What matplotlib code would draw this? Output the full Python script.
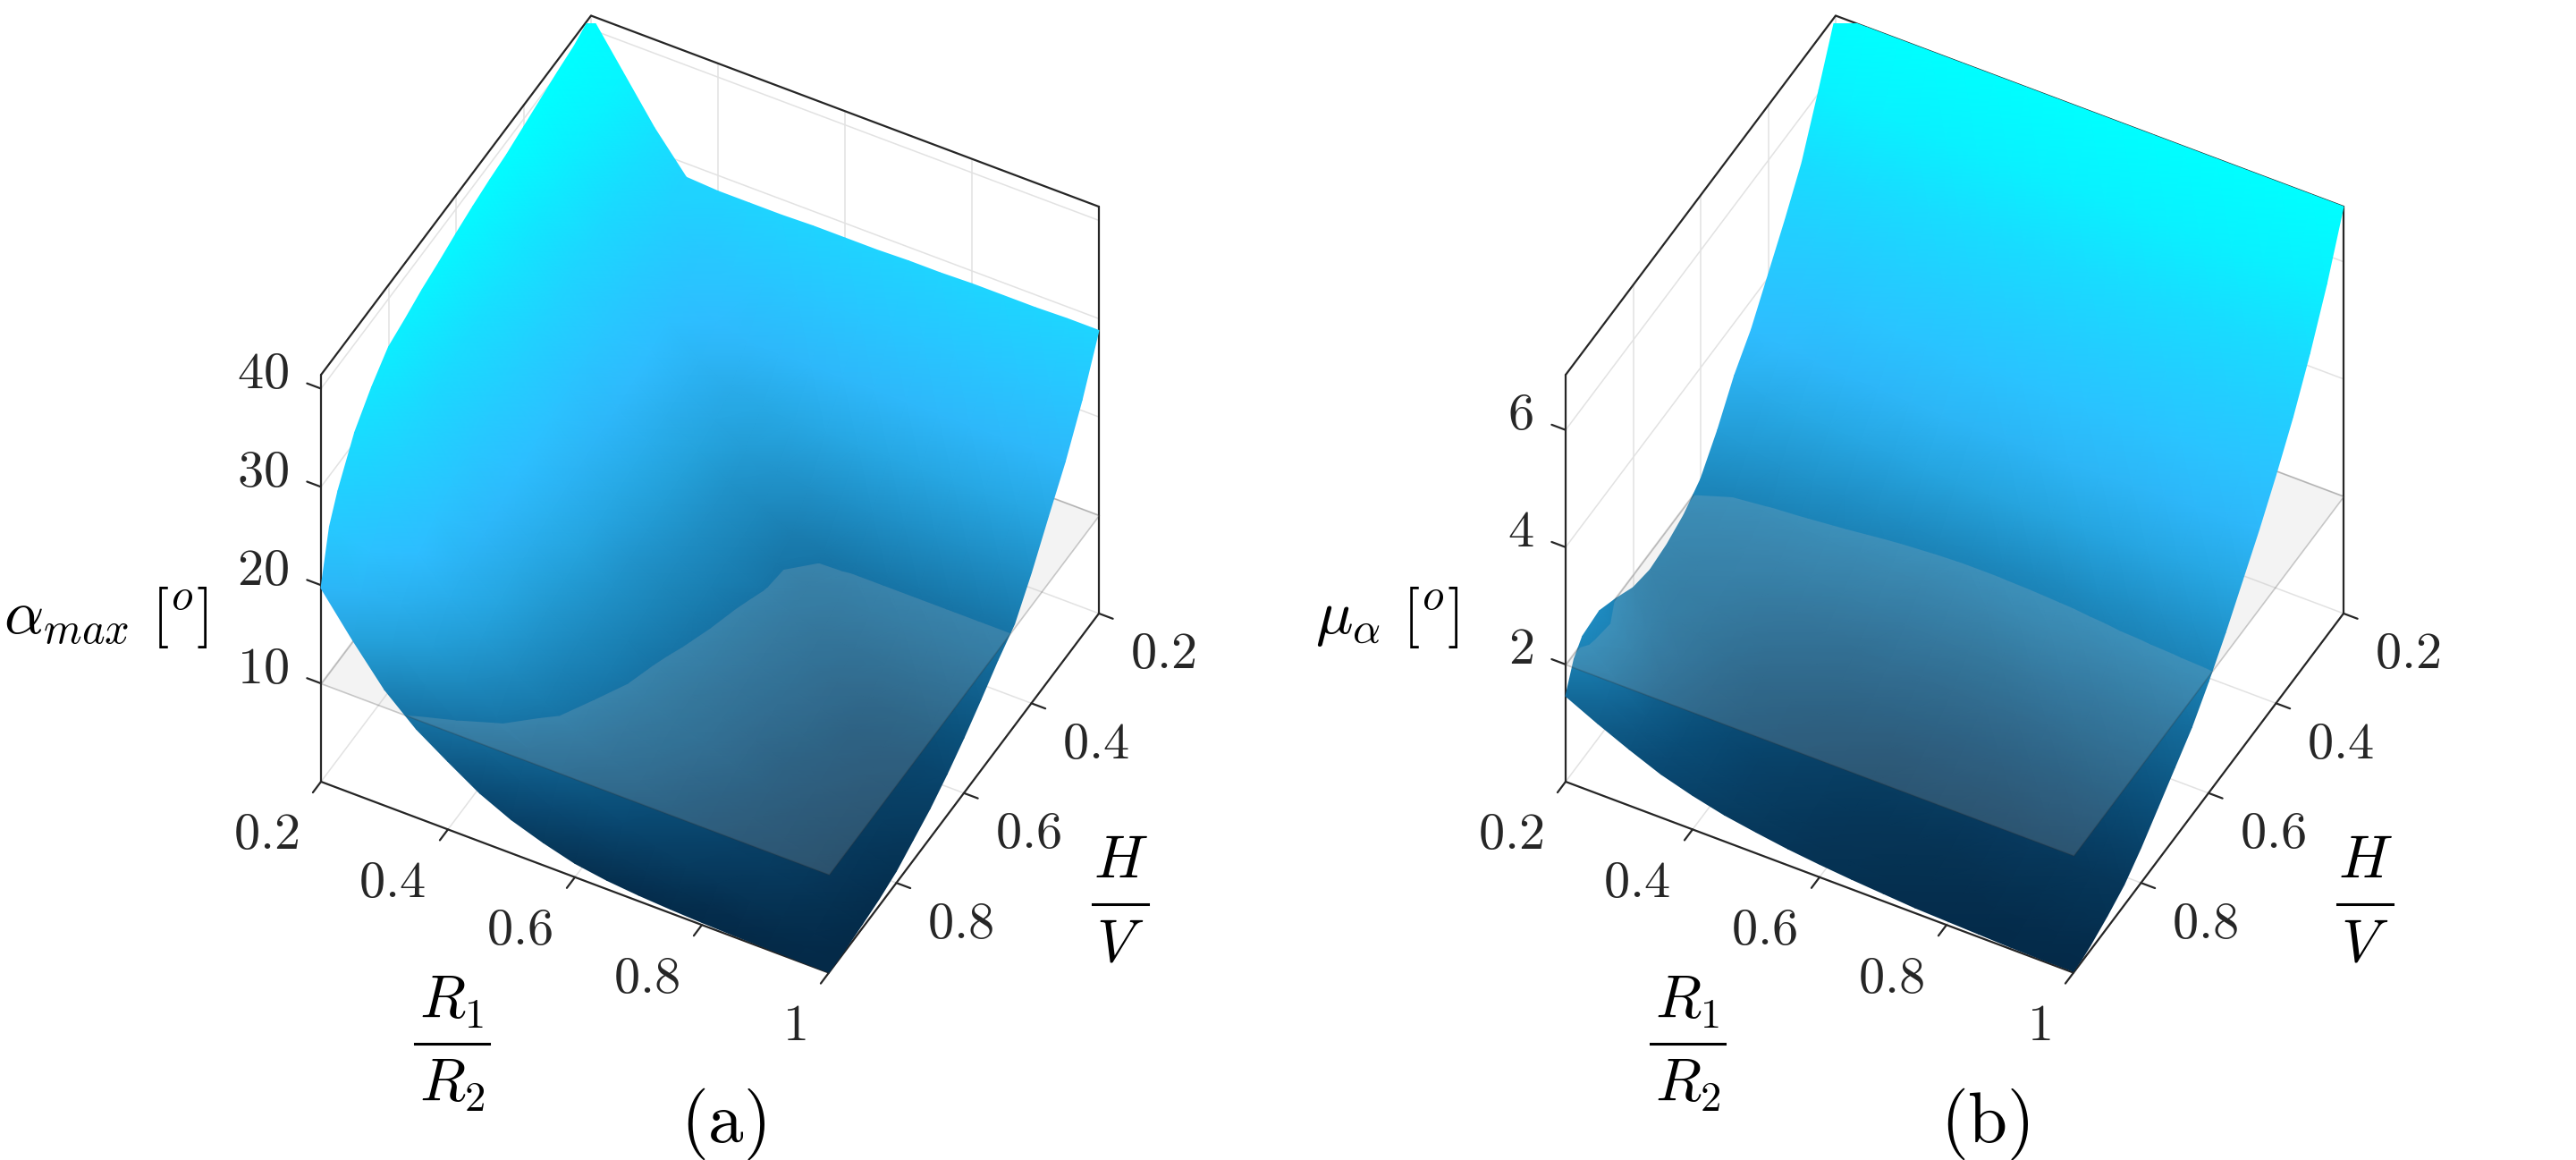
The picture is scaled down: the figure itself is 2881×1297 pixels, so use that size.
import numpy as np
import matplotlib
matplotlib.use('Agg')
import matplotlib.pyplot as plt
from matplotlib.collections import TriMesh
from matplotlib.colors import LinearSegmentedColormap, Normalize
from matplotlib.tri import Triangulation
from mpl_toolkits.mplot3d import proj3d
from mpl_toolkits.mplot3d.art3d import Poly3DCollection

plt.rcParams['mathtext.fontset'] = 'cm'

W, H_PX = 2881, 1297

ratio_r = [0.2, 0.25, 0.3, 0.35, 0.4, 0.45, 0.5, 0.55, 0.6, 0.65, 0.7, 0.75, 0.8, 0.85, 0.9, 0.95, 1.0]
ratio_h = [0.2, 0.25, 0.3, 0.35, 0.4, 0.45, 0.5, 0.55, 0.6, 0.65, 0.7, 0.75, 0.8, 0.85, 0.9, 0.95, 0.975, 1.0]

# one row per H/V, one column per R1/R2
alpha_max = [
    [41.4, 36.9, 32.4, 28.6, 28.4, 28.4, 28.4, 28.5, 28.5, 28.5, 28.6, 28.6, 28.7, 28.7, 28.7, 28.8, 28.8],
    [40.6, 36.4, 31.7, 27.7, 24.6, 24.1, 24, 24, 24, 24, 24, 24, 24, 24, 24, 24, 24],
    [40.2, 35.8, 31, 26.9, 22.9, 20.8, 20.1, 20, 20, 20, 20, 20, 20, 20, 20, 20, 20],
    [39.7, 35.2, 30.3, 26, 22, 19.2, 17.6, 16.9, 16.7, 16.7, 16.7, 16.7, 16.7, 16.7, 16.7, 16.7, 16.7],
    [39.2, 34.5, 29.6, 25, 21.3, 18.7, 16.6, 14.9, 14, 13.5, 13.3, 13.3, 13.3, 13.3, 13.3, 13.3, 13.3],
    [38.7, 33.7, 28.9, 24.2, 20.5, 18.1, 15.9, 13.8, 12.5, 11.1, 10.4, 10.35, 10.35, 10.35, 10.35, 10.35, 10.35],
    [38.4, 33.2, 28.5, 23.7, 20, 17.8, 15.5, 13.5, 12, 10.3, 9.1, 8.9, 8.9, 8.9, 8.9, 8.9, 8.9],
    [38, 32.6, 27.9, 23.1, 19.7, 17.4, 15.1, 13.2, 11.7, 10.2, 8.8, 7.9, 7.4, 7.2, 7.2, 7.2, 7.2],
    [37.5, 32, 27.1, 22.5, 19.2, 16.9, 14.6, 12.8, 11.2, 9.7, 8.3, 7.3, 6.4, 5.8, 5.6, 5.6, 5.6],
    [36.9, 31.3, 26.4, 21.9, 18.8, 16.4, 14, 12.4, 10.8, 9.3, 8, 7, 6, 5, 4.4, 4.2, 4.2],
    [36.4, 30.7, 25.6, 21.5, 18.3, 15.9, 13.6, 12, 10.3, 8.8, 7.6, 6.6, 5.6, 4.6, 3.8, 3.3, 3],
    [35.7, 30, 24.6, 20.2, 17.7, 15.1, 13.1, 11.4, 9.7, 8.2, 7.2, 6.1, 5, 4.1, 3.3, 2.7, 2.1],
    [35.1, 29.3, 23.8, 19.7, 17.1, 14.5, 12.6, 10.9, 9.2, 7.8, 6.8, 5.7, 4.6, 3.7, 2.9, 2.1, 1.2],
    [33.3, 28, 22.6, 18.9, 16.2, 13.6, 11.8, 10, 8.4, 7.2, 6.1, 5, 4, 3.1, 2.3, 1.6, 0.7],
    [31, 26, 21, 17.8, 15, 12.7, 10.8, 9, 7.6, 6.4, 5.1, 4.1, 3.2, 2.5, 1.8, 1.1, 0.4],
    [27.3, 22.3, 18.2, 15.2, 12.6, 10.4, 8.4, 7, 5.6, 4.4, 3.3, 2.6, 1.9, 1.3, 0.9, 0.5, 0.15],
    [24.8, 19.3, 15.5, 12.4, 10, 7.9, 6.3, 4.8, 3.5, 2.5, 1.8, 1.2, 0.8, 0.55, 0.35, 0.2, 0.06],
    [19.7, 15.6, 11.8, 9, 6.9, 4.9, 3.4, 2.3, 1.4, 0.9, 0.6, 0.4, 0.25, 0.15, 0.1, 0.05, 0.02],
]

mu_alpha = [
    [6.94, 6.94, 6.94, 6.94, 6.94, 6.94, 6.94, 6.94, 6.94, 6.94, 6.94, 6.94, 6.94, 6.94, 6.94, 6.94, 6.94],
    [6.05, 6.03, 6.02, 6, 6, 6, 6, 6, 6, 6, 6, 6, 6, 6, 6, 6, 6],
    [5.2, 5.2, 5.2, 5.2, 5.2, 5.2, 5.2, 5.2, 5.2, 5.2, 5.2, 5.2, 5.2, 5.2, 5.2, 5.2, 5.2],
    [4.6, 4.55, 4.52, 4.5, 4.5, 4.5, 4.5, 4.5, 4.5, 4.5, 4.5, 4.5, 4.5, 4.5, 4.5, 4.5, 4.5],
    [4.05, 3.98, 3.93, 3.9, 3.88, 3.86, 3.85, 3.85, 3.85, 3.85, 3.86, 3.86, 3.87, 3.88, 3.88, 3.89, 3.9],
    [3.5, 3.42, 3.36, 3.32, 3.3, 3.28, 3.26, 3.25, 3.25, 3.25, 3.26, 3.27, 3.28, 3.3, 3.31, 3.33, 3.35],
    [3.1, 2.95, 2.88, 2.83, 2.8, 2.76, 2.73, 2.71, 2.7, 2.7, 2.71, 2.73, 2.75, 2.77, 2.8, 2.82, 2.85],
    [2.55, 2.45, 2.35, 2.28, 2.24, 2.2, 2.15, 2.12, 2.1, 2.1, 2.11, 2.13, 2.17, 2.22, 2.26, 2.3, 2.35],
    [2.1, 2, 1.95, 1.92, 1.88, 1.83, 1.79, 1.76, 1.75, 1.75, 1.77, 1.79, 1.81, 1.84, 1.86, 1.88, 1.9],
    [1.87, 1.78, 1.72, 1.66, 1.6, 1.53, 1.47, 1.43, 1.4, 1.38, 1.38, 1.39, 1.41, 1.43, 1.45, 1.48, 1.5],
    [1.75, 1.65, 1.58, 1.46, 1.35, 1.26, 1.19, 1.14, 1.1, 1.08, 1.07, 1.08, 1.1, 1.12, 1.14, 1.17, 1.2],
    [1.7, 1.57, 1.45, 1.29, 1.15, 1.04, 0.96, 0.9, 0.85, 0.82, 0.81, 0.81, 0.82, 0.83, 0.85, 0.87, 0.9],
    [1.78, 1.55, 1.38, 1.18, 1, 0.88, 0.78, 0.69, 0.62, 0.59, 0.57, 0.56, 0.56, 0.57, 0.58, 0.59, 0.6],
    [1.98, 1.6, 1.33, 1.08, 0.88, 0.74, 0.63, 0.53, 0.45, 0.41, 0.38, 0.37, 0.36, 0.36, 0.35, 0.35, 0.35],
    [2.15, 1.7, 1.27, 1, 0.78, 0.62, 0.51, 0.41, 0.33, 0.29, 0.26, 0.24, 0.23, 0.22, 0.21, 0.2, 0.2],
    [2.1, 1.6, 1.15, 0.86, 0.68, 0.53, 0.42, 0.33, 0.26, 0.22, 0.18, 0.15, 0.13, 0.11, 0.1, 0.09, 0.08],
    [1.9, 1.42, 1.08, 0.8, 0.63, 0.49, 0.39, 0.3, 0.24, 0.19, 0.15, 0.12, 0.1, 0.08, 0.06, 0.05, 0.04],
    [1.46, 1.2, 0.96, 0.74, 0.58, 0.45, 0.36, 0.28, 0.22, 0.17, 0.13, 0.09, 0.07, 0.05, 0.03, 0.02, 0.02],
]

xy_ticks = [0.2, 0.4, 0.6, 0.8, 1.0]
xy_labels = ['0.2', '0.4', '0.6', '0.8', '1']
z_ticks_a = [10, 20, 30, 40]
z_ticks_b = [2, 4, 6]
z_top_a = 41.4
z_top_b = 6.94
plane_a = 10
plane_b = 2

cmap = LinearSegmentedColormap.from_list('blues', [
    (0.0, '#042a48'), (0.12, '#0a4c76'), (0.25, '#1878aa'), (0.38, '#25a2dc'),
    (0.5, '#2fbcff'), (0.72, '#1cd8ff'), (0.95, '#00ffff'), (1.0, '#00ffff')])

DARK = '#262626'
GRID = '#e2e2e2'
BOX_LW = 1.6


def clip_poly(pts, level, keep_above):
    out = []
    for k in range(len(pts)):
        p, q = pts[k], pts[(k + 1) % len(pts)]
        p_in = (p[2] >= level) == keep_above
        q_in = (q[2] >= level) == keep_above
        if p_in:
            out.append(p)
        if p_in != q_in:
            t = (level - p[2]) / (q[2] - p[2])
            out.append((p[0] + t * (q[0] - p[0]), p[1] + t * (q[1] - p[1]), level))
    return out


def build_surface(zz, level):
    # triangles of the surface, split at the plane so it can sit between the two parts
    zz = np.array(zz, dtype=float)
    low, high = [], []
    for i in range(len(ratio_h) - 1):
        for j in range(len(ratio_r) - 1):
            a = (ratio_h[i], ratio_r[j], zz[i, j])
            b = (ratio_h[i + 1], ratio_r[j], zz[i + 1, j])
            c = (ratio_h[i + 1], ratio_r[j + 1], zz[i + 1, j + 1])
            d = (ratio_h[i], ratio_r[j + 1], zz[i, j + 1])
            if abs(a[2] - c[2]) <= abs(b[2] - d[2]):
                tris = [[a, b, c], [a, c, d]]
            else:
                tris = [[a, b, d], [b, c, d]]
            for tri in tris:
                for keep_above, bucket in ((False, low), (True, high)):
                    part = clip_poly(tri, level, keep_above)
                    for k in range(1, len(part) - 1):
                        bucket.append([part[0], part[k], part[k + 1]])
    return low, high


def add_mesh(ax, tris, z_top, order):
    # smooth shading between the grid values, drawn back to front
    pts = np.array(tris).reshape(-1, 3)
    x2, y2, depth = proj3d.proj_transform(pts[:, 0], pts[:, 1], pts[:, 2], ax.get_proj())
    back_first = np.argsort(-np.asarray(depth).reshape(-1, 3).mean(axis=1))
    faces = np.arange(len(pts)).reshape(-1, 3)[back_first]
    mesh = TriMesh(Triangulation(np.asarray(x2), np.asarray(y2), faces), cmap=cmap,
                   norm=Normalize(0, z_top), zorder=order)
    mesh.set_array(pts[:, 2])
    mesh.set_transform(ax.transData)
    mesh.do_3d_projection = lambda: 0
    ax.add_collection(mesh, autolim=False)


def to_2d(ax, h, r, z):
    x2, y2, _ = proj3d.proj_transform(h, r, z, ax.get_proj())
    return x2, y2


def fit_axes(ax, corner_a, corner_b, px_a):
    # size and move the axes so two box corners land on the wanted pixels
    side = 1000.0
    for _ in range(2):
        ax.set_position([0, 0, side / W, side / H_PX])
        ax.apply_aspect()
        a = ax.transData.transform(to_2d(ax, *corner_a))
        b = ax.transData.transform(to_2d(ax, *corner_b))
        side *= (px_a[1][0] - px_a[0][0]) / (b[0] - a[0])
    ax.set_position([0, 0, side / W, side / H_PX])
    ax.apply_aspect()
    a = ax.transData.transform(to_2d(ax, *corner_a))
    left = px_a[0][0] - a[0]
    bottom = (H_PX - px_a[0][1]) - a[1]
    ax.set_position([left / W, bottom / H_PX, side / W, side / H_PX])
    ax.apply_aspect()


def draw_panel(fig, zz, z_top, z_ticks, level, x_shift):
    ax = fig.add_subplot(projection='3d', computed_zorder=False)
    ax.set_autoscale_on(False)
    ax.set_proj_type('ortho')
    ax.view_init(elev=45, azim=28)
    ax.set_box_aspect((1, 1, 1))
    ax.set_xlim(0.2, 1, view_margin=0)
    ax.set_ylim(0.2, 1, view_margin=0)
    ax.set_zlim(0, z_top, view_margin=0)
    ax.set_axis_off()
    ax.patch.set_visible(False)
    fit_axes(ax, (1, 0.2, 0), (0.2, 1, 0), [(359 + x_shift, 874), (1229 + x_shift, 686)])

    def line(hs, rs, zs, c=DARK, lw=BOX_LW, order=1.5):
        ax.plot(hs, rs, zs, color=c, lw=lw, zorder=order, clip_on=False, solid_capstyle='round')

    # grid on the floor and the two back walls
    for t in xy_ticks:
        line([t, t], [0.2, 1], [0, 0], GRID, 1.1, 1)
        line([0.2, 1], [t, t], [0, 0], GRID, 1.1, 1)
        line([0.2, 0.2], [t, t], [0, z_top], GRID, 1.1, 1)
        line([t, t], [0.2, 0.2], [0, z_top], GRID, 1.1, 1)
    for t in z_ticks:
        line([0.2, 0.2], [0.2, 1], [t, t], GRID, 1.1, 1)
        line([0.2, 1], [0.2, 0.2], [t, t], GRID, 1.1, 1)

    # box
    line([1, 1], [0.2, 0.2], [0, z_top])
    line([1, 0.2, 0.2], [0.2, 0.2, 1], [z_top, z_top, z_top])
    line([0.2, 0.2], [1, 1], [0, z_top])
    line([1, 1, 0.2], [0.2, 1, 1], [0, 0, 0])

    # ticks and their labels
    for t, s in zip(xy_ticks, xy_labels):
        line([1, 1.024], [t, t], [0, 0])
        ax.annotate('$' + s + '$', to_2d(ax, 1, t, 0), xytext=(-25, -59), textcoords='offset pixels',
                    ha='right', va='center', fontsize=42, color=DARK, annotation_clip=False)
    for t, s in zip(xy_ticks[:-1], xy_labels[:-1]):
        line([t, t], [1, 1.022], [0, 0])
        ax.annotate('$' + s + '$', to_2d(ax, t, 1, 0), xytext=(35, -45), textcoords='offset pixels',
                    ha='left', va='center', fontsize=42, color=DARK, annotation_clip=False)
    for t in z_ticks:
        line([1, 1], [0.2, 0.178], [t, t])
        ax.annotate('$%d$' % t, to_2d(ax, 1, 0.2, t), xytext=(-36, 17), textcoords='offset pixels',
                    ha='right', va='center', fontsize=42, color=DARK, annotation_clip=False)

    low, high = build_surface(zz, level)
    add_mesh(ax, low, z_top, 2)
    plane = [[(0.2, 0.2, level), (1, 0.2, level), (1, 1, level), (0.2, 1, level)]]
    ax.add_collection3d(Poly3DCollection(plane, facecolors=[(0.765, 0.765, 0.765, 0.2)],
                                         edgecolors=[(0.2, 0.2, 0.2, 0.25)], linewidths=1.2, zorder=3),
                        autolim=False)
    add_mesh(ax, high, z_top, 4)
    return ax


fig = plt.figure(figsize=(W / 100, H_PX / 100), dpi=100)
draw_panel(fig, alpha_max, z_top_a, z_ticks_a, plane_a, 0)
draw_panel(fig, mu_alpha, z_top_b, z_ticks_b, plane_b, 1392)


def label(x, y, s, size, ha='center'):
    fig.text(x / W, 1 - y / H_PX, s, fontsize=size, ha=ha, va='baseline', color='black')


def fraction(x, y_bar, top, bottom, half_width, base_top, base_bottom):
    label(x, base_top, top, 48)
    label(x, base_bottom, bottom, 48)
    fig.add_artist(plt.Line2D([(x - half_width) / W, (x + half_width) / W],
                              [1 - y_bar / H_PX, 1 - y_bar / H_PX], color='black', lw=2.2))


label(232, 708, r'$\alpha_{max}\ [^o]$', 50, 'right')
label(1632, 708, r'$\mu_{\alpha}\ [^o]$', 50, 'right')
fraction(505.5, 1167, r'$R_1$', r'$R_2$', 41.5, 1139, 1232)
fraction(1887.5, 1167, r'$R_1$', r'$R_2$', 41.5, 1139, 1232)
fraction(1253, 1011, r'$H$', r'$V$', 31, 981, 1075)
fraction(2645, 1011, r'$H$', r'$V$', 31, 981, 1075)
label(809, 1277, r'$\mathrm{(a)}$', 57)
label(2220, 1277, r'$\mathrm{(b)}$', 57)

fig.savefig('out.png', dpi=100)
